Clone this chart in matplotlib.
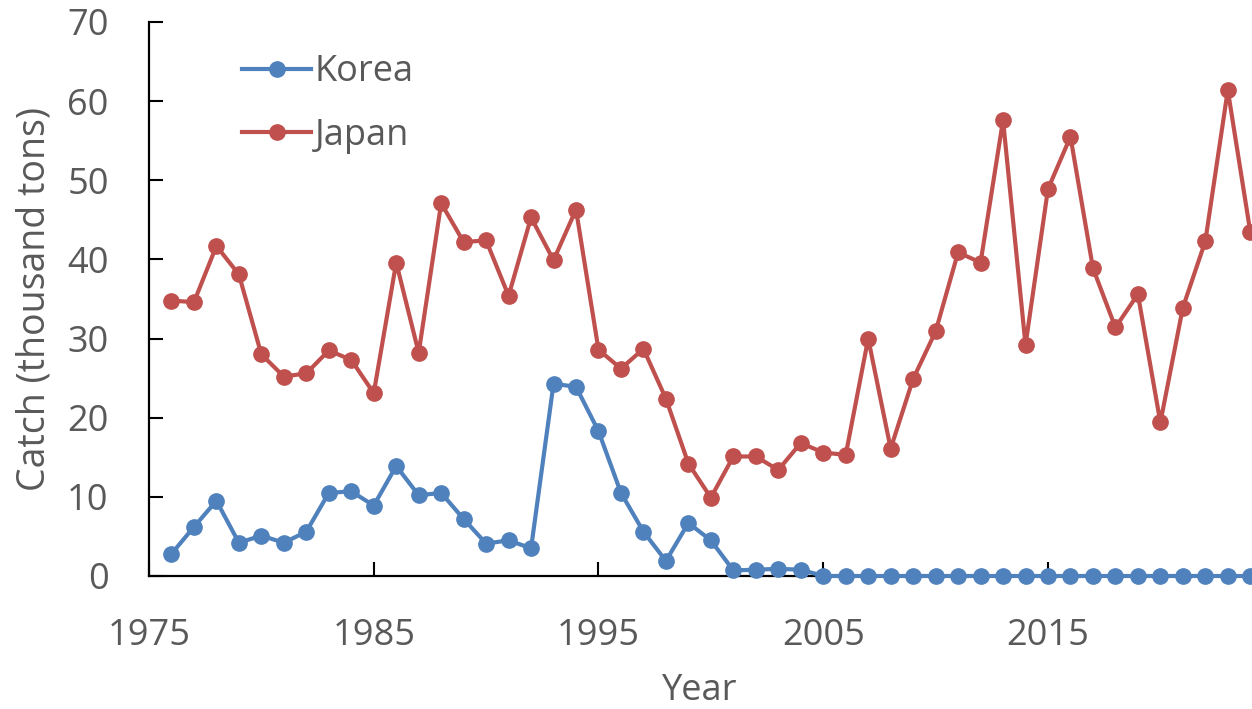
import matplotlib
matplotlib.use("Agg")
import matplotlib.pyplot as plt

years = list(range(1976, 2025))

korea = [2.8, 6.2, 9.5, 4.2, 5.1, 4.2, 5.6, 10.5, 10.7, 8.9,
         13.9, 10.2, 10.5, 7.2, 4.1, 4.5, 3.5, 24.3, 23.9, 18.3,
         10.5, 5.6, 1.9, 6.7, 4.5, 0.7, 0.8, 0.9, 0.8, 0.0,
         0.0, 0.0, 0.0, 0.0, 0.0, 0.0, 0.0, 0.0, 0.0, 0.0,
         0.0, 0.0, 0.0, 0.0, 0.0, 0.0, 0.0, 0.0, 0.0]

japan = [34.8, 34.6, 41.7, 38.1, 28.0, 25.2, 25.6, 28.5, 27.3, 23.1,
         39.6, 28.2, 47.1, 42.2, 42.4, 35.4, 45.3, 39.9, 46.3, 28.6,
         26.2, 28.7, 22.4, 14.2, 9.9, 15.1, 15.1, 13.4, 16.8, 15.6,
         15.3, 30.0, 16.1, 24.9, 30.9, 40.9, 39.6, 57.6, 29.2, 48.9,
         55.5, 38.9, 31.4, 35.6, 19.4, 33.9, 42.3, 61.4, 43.5]

xticks = [1975, 1985, 1995, 2005, 2015]
yticks = [0, 10, 20, 30, 40, 50, 60, 70]

text_color = "#595959"
fs = 26
plt.rcParams["font.family"] = ["Open Sans", "DejaVu Sans"]

fig = plt.figure(figsize=(12.52, 7.09), dpi=100)
ax = fig.add_axes([0.119, 0.1876, 0.885, 0.7814])

ax.plot(years, korea, color="#4F81BD", lw=3, marker="o", ms=11, label="Korea",
        clip_on=False, zorder=3)
ax.plot(years, japan, color="#C0504D", lw=3, marker="o", ms=11, label="Japan",
        clip_on=False, zorder=3)

ax.set_xlim(1975, 2024.3)
ax.set_ylim(0, 70)
ax.set_xticks(xticks)
ax.set_yticks(yticks)
ax.tick_params(direction="in", length=10, width=1.5, labelsize=fs,
               labelcolor=text_color)
ax.tick_params(axis="x", pad=30)
ax.tick_params(axis="y", pad=29)
ax.spines[["top", "right"]].set_visible(False)
for s in ["left", "bottom"]:
    ax.spines[s].set_linewidth(1.6)
    ax.spines[s].set_color("black")

ax.set_xlabel("Year", fontsize=fs, color=text_color)
ax.xaxis.set_label_coords(0.497, -0.175)
ax.set_ylabel("Catch (thousand tons)", fontsize=27, color=text_color)
ax.yaxis.set_label_coords(-0.086, 0.5)

ax.legend(loc="upper left", bbox_to_anchor=(0.055, 1.0), frameon=False,
          fontsize=fs, handlelength=1.9, handletextpad=0.1,
          labelspacing=0.75, labelcolor=text_color)

fig.savefig("out.png", dpi=100)
